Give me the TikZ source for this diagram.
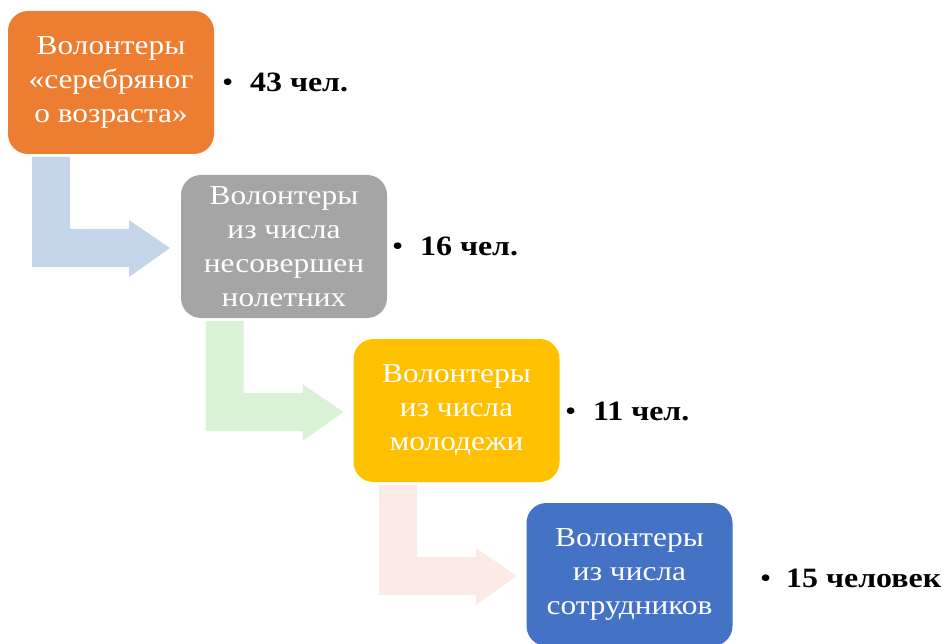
\documentclass[tikz,border=0pt]{standalone}
\usepackage{fontspec}
\setmainfont{Liberation Serif}[FakeStretch=1.14]
\usepackage{tikz}

\definecolor{boxorange}{HTML}{ED7D31}
\definecolor{boxgray}{HTML}{A5A5A5}
\definecolor{boxyellow}{HTML}{FFC000}
\definecolor{boxblue}{HTML}{4472C4}
\definecolor{arrblue}{HTML}{C5D5EA}
\definecolor{arrgreen}{HTML}{DAF3D6}
\definecolor{arrpink}{HTML}{FBEAE6}

\tikzset{
  volbox/.style={rounded corners=20pt, minimum width=206pt, minimum height=143pt,
    inner sep=2pt, align=center, text=white, font=\fontsize{27.5}{34}\selectfont},
  countlbl/.style={anchor=west, inner sep=0pt, font=\fontsize{28}{34}\selectfont\bfseries}
}

\begin{document}
\begin{tikzpicture}[x=1pt, y=-1pt]
        \useasboundingbox (0,0) rectangle (942,644);

        % bent arrows
        \foreach \dx/\dy/\col in {0/0/arrblue, 173.5/164/arrgreen, 347/328/arrpink}
        {
          \fill[\col, shift={(\dx,\dy)}] (32,157) -- (70,157) -- (70,229) -- (129,229)
            -- (129,220) -- (170,248) -- (129,277) -- (129,267) -- (32,267) -- cycle;
        }

        % boxes
        \node[volbox, fill=boxorange] (silver) at (111,82.5) {Волонтеры\\«серебряног\\о возраста»};
        \node[volbox, fill=boxgray] (minors) at (284,246.5) {Волонтеры\\из числа\\несовершен\\нолетних};
        \node[volbox, fill=boxyellow] (youth) at (456.5,410.5) {Волонтеры\\из числа\\молодежи};
        \node[volbox, fill=boxblue] (staff) at (629.5,574.5) {Волонтеры\\из числа\\сотрудников};

        % counts
        \node[countlbl] (nsilver) at (222,82) {\makebox[28pt][l]{\mdseries\textbullet}43 чел.};
        \node[countlbl] (nminors) at (392,246) {\makebox[28pt][l]{\mdseries\textbullet}16 чел.};
        \node[countlbl] (nyouth) at (565,411) {\makebox[28pt][l]{\mdseries\textbullet}11 чел.};
        \node[countlbl] (nstaff) at (760,578) {\makebox[26pt][l]{\mdseries\textbullet}15 человек};
\end{tikzpicture}
\end{document}
